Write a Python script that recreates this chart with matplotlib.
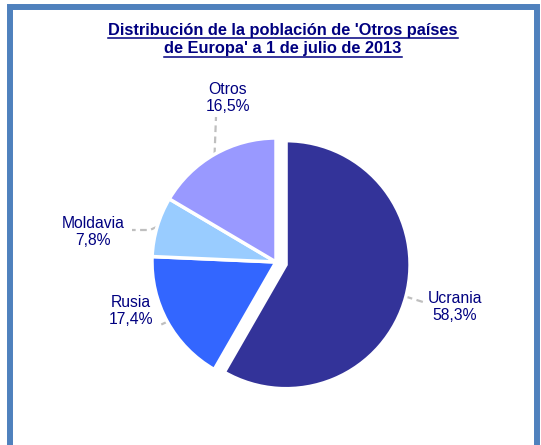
import math
import matplotlib
matplotlib.use('Agg')
import matplotlib.pyplot as plt
from matplotlib.patches import Rectangle

plt.rcParams['font.family'] = ['Liberation Sans', 'DejaVu Sans']

# data
countries = ['Ucrania', 'Rusia', 'Moldavia', 'Otros']
shares    = [58.3, 17.4, 7.8, 16.5]
share_txt = ['58,3%', '17,4%', '7,8%', '16,5%']
colors    = ['#333399', '#3366FF', '#99CCFF', '#9999FF']
title     = "Distribución de la población de 'Otros países\nde Europa' a 1 de julio de 2013"

W, H = 541, 445
navy = '#000080'

fig = plt.figure(figsize=(W / 100, H / 100), dpi=100)
ax = fig.add_axes([0, 0, 1, 1])

# pixel-like coordinates (y up)
cx, cy, r = 276, H - 262, 124
wedges, _ = ax.pie(shares, colors=colors, startangle=90, counterclock=False,
                   radius=r, center=(cx, cy), explode=[10.4, 0, 0, 0],
                   wedgeprops=dict(edgecolor='white', linewidth=2.5))
ax.set_xlim(0, W)
ax.set_ylim(0, H)
ax.set_aspect('equal')
ax.axis('off')

# label positions (centres, in pixels from top-left) and leader end points
label_pos = {'Ucrania': (455, 307), 'Rusia': (131, 311),
             'Moldavia': (93, 232), 'Otros': (228, 98)}
leader_end = {'Ucrania': [(423, 302)], 'Rusia': [(158, 326)],
              'Moldavia': [(150, 230), (132, 230)], 'Otros': [(216, 117)]}

for w, name, txt in zip(wedges, countries, share_txt):
    mid = math.radians((w.theta1 + w.theta2) / 2)
    ex = w.center[0] + w.r * math.cos(mid)
    ey = w.center[1] + w.r * math.sin(mid)
    pts = [(ex, ey)] + [(x, H - y) for x, y in leader_end[name]]
    ax.plot([p[0] for p in pts], [p[1] for p in pts], color='#BFBFBF',
            linestyle=(0, (3, 2)), linewidth=1.6, zorder=0)
    lx, ly = label_pos[name]
    ax.text(lx, H - ly, f'{name}\n{txt}', ha='center', va='center',
            fontsize=11.3, color=navy, linespacing=1.22)

# title with underline
fig.canvas.draw()
renderer = fig.canvas.get_renderer()
inv = ax.transData.inverted()
for line, yc in zip(title.split('\n'), [30, 49]):
    tl = ax.text(283, H - yc, line, ha='center', va='center', fontsize=11.8,
                 fontweight='bold', color=navy)
    bb = tl.get_window_extent(renderer)
    (x0, _), (x1, _) = inv.transform([(bb.x0, bb.y0), (bb.x1, bb.y1)])
    ax.plot([x0, x1], [H - yc - 8, H - yc - 8], color=navy, linewidth=1.1)

# blue frame
ax.add_patch(Rectangle((10, -10), 526.5, H - 7 + 10, fill=False,
                       edgecolor='#4F81BD', linewidth=4.3, clip_on=False))

fig.savefig('out.png', dpi=100)
